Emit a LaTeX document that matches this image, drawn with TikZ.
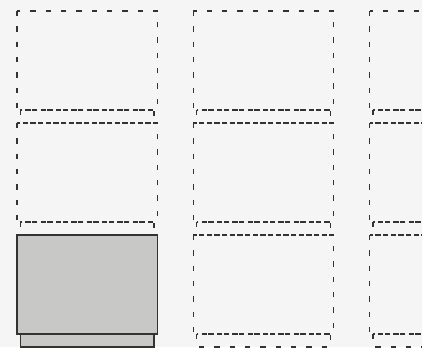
\documentclass[tikz,border=0pt]{standalone}
\usepackage{xcolor}
\definecolor{fondo}{HTML}{F5F5F5}
\definecolor{gris}{HTML}{C8C8C6}
\definecolor{borde}{HTML}{333333}

\tikzset{
  cajon/.pic={
    % cuerpo y pie
    \path[pic actions] (\pie,\alto) rectangle ({\ancho-\pie},\paso);
    \path[pic actions] (0,0) rectangle (\ancho,\alto);
  },
  hueco/.style={draw=borde, line width=1pt, dash pattern=on 4pt off 7.5pt},
  lleno/.style={draw=borde, fill=gris, line width=1pt}
}

\begin{document}
\begin{tikzpicture}[x=0.75pt, y=-0.75pt, line join=miter]
  % Fondo y marco lógico
  \fill[fondo] (0,0) rectangle (422,347);
  \useasboundingbox (0,0) rectangle (422,347);
  \clip (0,0) rectangle (422,347);

  % Parámetros geométricos
  \def\ancho{140.3}   % ancho del cuerpo
  \def\alto{99}       % alto del cuerpo
  \def\paso{112}      % cuerpo + pie, distancia entre filas
  \def\pie{3.4}       % entrante del pie
  \def\sepx{176.3}    % distancia entre columnas

  % Cajones vacíos (discontinuos)
  \foreach \c/\r in {0/0,0/1,1/0,1/1,1/2,2/0,2/1,2/2}
    \pic[hueco] at ({17+\c*\sepx},{11+\r*\paso}) {cajon};

  % Cajón ocupado
  \pic[lleno] at (17,{11+2*\paso}) {cajon};
\end{tikzpicture}
\end{document}
